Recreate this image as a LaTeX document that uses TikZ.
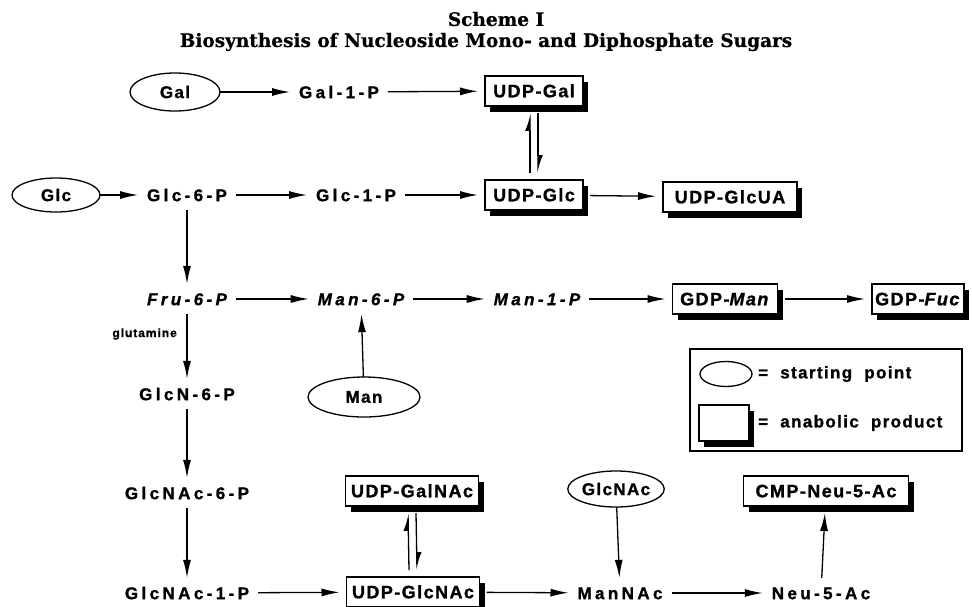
\documentclass[tikz,border=0pt]{standalone}
\usepackage{fontspec}
\setmainfont{Liberation Sans}
\newfontfamily\titlefont[BoldFeatures={FakeBold=0.6}]{DejaVu Serif}
\newfontfamily\labfont[LetterSpace=20, BoldFeatures={FakeBold=1.2}, BoldItalicFeatures={FakeBold=1.2}]{Liberation Sans}
\newfontfamily\boxfont[LetterSpace=8, BoldFeatures={FakeBold=1.2}, BoldItalicFeatures={FakeBold=1.2}]{Liberation Sans}
\usetikzlibrary{arrows.meta,shapes.geometric}
\begin{document}
\begin{tikzpicture}[x=1pt,y=-1pt,
  lab/.style={font=\labfont\bfseries\fontsize{17}{20}\selectfont, inner sep=0pt, outer sep=9pt, text height=12.3pt, text depth=0pt},
  ilab/.style={lab, font=\labfont\bfseries\itshape\fontsize{17}{20}\selectfont},
  start/.style={ellipse, draw, line width=1.3pt, inner sep=0pt, outer sep=0pt, font=\boxfont\bfseries\fontsize{17}{20}\selectfont},
  prod/.style={draw, line width=1.5pt, fill=white, inner sep=0pt, minimum height=30pt, outer sep=7pt,
    text height=12.5pt, text depth=0pt,
    font=\boxfont\bfseries\fontsize{18}{20}\selectfont,
    preaction={fill=black, draw=none, transform canvas={xshift=5pt,yshift=-6pt}}},
  arr/.style={-{Latex[length=18pt,width=8pt]}, line width=1.3pt},
  harp/.style={-{Latex[harpoon,length=15pt,width=10pt]}, line width=1.3pt},
  ttl/.style={font=\titlefont\bfseries\fontsize{18.5}{21}\selectfont, inner sep=0pt}
]
\useasboundingbox (0,0) rectangle (972,606);

% title
\node[ttl] (t1) at (496,19) {Scheme I};
\node[ttl] (t2) at (486,42) {Biosynthesis of Nucleoside Mono- and Diphosphate Sugars};

% row A
\node[start, minimum width=90pt, minimum height=38pt] (gal) at (175,92) {Gal};
\node[lab] (gal1p) at (339,92) {Gal-1-P};
\node[prod, minimum width=98pt] (udpgal) at (534,91) {UDP-Gal};

% row B
\node[start, minimum width=88pt, minimum height=34pt] (glc) at (56,195) {Glc};
\node[lab] (glc6p) at (187,195) {Glc-6-P};
\node[lab] (glc1p) at (356,195) {Glc-1-P};
\node[prod, minimum width=98pt] (udpglc) at (534,195) {UDP-Glc};
\node[prod, minimum width=134pt] (udpglcua) at (730,197) {UDP-GlcUA};

% row C
\node[ilab] (fru6p) at (187,299) {Fru-6-P};
\node[ilab] (man6p) at (361,299) {Man-6-P};
\node[ilab] (man1p) at (537,299) {Man-1-P};
\node[prod, minimum width=105pt] (gdpman) at (725,299) {GDP-\textit{Man}};
\node[prod, minimum width=92pt] (gdpfuc) at (918,299) {GDP-\textit{Fuc}};
\node[font=\boxfont\bfseries\fontsize{12}{14}\selectfont, anchor=east, inner sep=0pt] (glut) at (177,334) {glutamine};

% row D
\node[lab] (glcn6p) at (187,394) {GlcN-6-P};
\node[start, minimum width=112pt, minimum height=40pt] (man) at (364,397) {Man};

% legend
\node[draw, line width=1.3pt, minimum width=272pt, minimum height=102pt, inner sep=0pt] (legend) at (826,400) {};
\node[ellipse, draw, line width=1.3pt, minimum width=52pt, minimum height=25pt, inner sep=0pt] (legell) at (726,374) {};
\node[prod, minimum width=50pt, minimum height=36pt, outer sep=0pt] (legbox) at (724,423) {};
\node[font=\boxfont\bfseries\fontsize{17}{20}\selectfont, anchor=west, inner sep=0pt] (legt1) at (758,374) {=\ \ starting\ \ point};
\node[font=\boxfont\bfseries\fontsize{17}{20}\selectfont, anchor=west, inner sep=0pt] (legt2) at (758,423) {=\ \ anabolic\ \ product};

% row E
\node[lab] (glcnac6p) at (187,493) {GlcNAc-6-P};
\node[prod, minimum width=133pt] (udpgalnac) at (412,491) {UDP-GalNAc};
\node[start, minimum width=95pt, minimum height=36pt] (glcnac) at (616,489) {GlcNAc};
\node[prod, minimum width=165pt] (cmp) at (826,491) {CMP-Neu-5-Ac};

% row F
\node[lab] (glcnac1p) at (187,593) {GlcNAc-1-P};
\node[prod, minimum width=133pt] (udpglcnac) at (413,592) {UDP-GlcNAc};
\node[lab] (mannac) at (620,593) {ManNAc};
\node[lab] (neu5ac) at (821,593) {Neu-5-Ac};

% connectors
\draw[arr] (gal) -- (gal1p);
\draw[arr] (gal1p) -- (udpgal);
\draw[harp] ([xshift=-4pt]udpglc.north) -- ([xshift=-4pt]udpgal.south);
\draw[harp] ([xshift=4pt]udpgal.south) -- ([xshift=4pt]udpglc.north);

\draw[arr] (glc) -- (glc6p);
\draw[arr] (glc6p) -- (glc1p);
\draw[arr] (glc1p) -- (udpglc);
\draw[arr] (udpglc) -- (udpglcua);

\draw[arr] (glc6p) -- (fru6p);
\draw[arr] (fru6p) -- (man6p);
\draw[arr] (man6p) -- (man1p);
\draw[arr] (man1p) -- (gdpman);
\draw[arr] (gdpman) -- (gdpfuc);
\draw[arr] (man) -- (man6p);

\draw[arr] (fru6p) -- (glcn6p);
\draw[arr] (glcn6p) -- (glcnac6p);
\draw[arr] (glcnac6p) -- (glcnac1p);
\draw[arr] (glcnac1p) -- (udpglcnac);
\draw[harp] ([xshift=-4pt]udpglcnac.north) -- ([xshift=-4pt]udpgalnac.south);
\draw[harp] ([xshift=4pt]udpgalnac.south) -- ([xshift=4pt]udpglcnac.north);
\draw[arr] (udpglcnac) -- (mannac);
\draw[arr] (glcnac) -- (mannac);
\draw[arr] (mannac) -- (neu5ac);
\draw[arr] (neu5ac) -- (cmp);
\end{tikzpicture}
\end{document}
